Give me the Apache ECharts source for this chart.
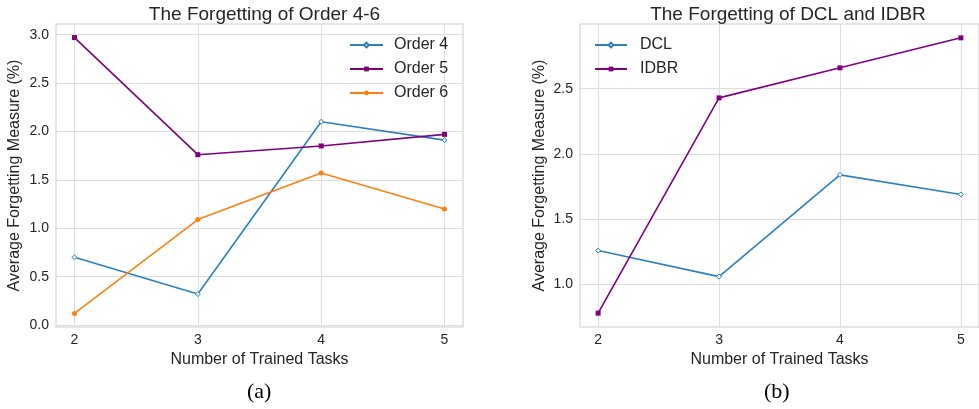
<!DOCTYPE html>
<html>
<head>
<meta charset="utf-8">
<script src="https://cdn.jsdelivr.net/npm/echarts@6/dist/echarts.min.js"></script>
<style>
  html, body { margin: 0; padding: 0; background: #fff; }
  #chart { width: 979px; height: 409px; }
</style>
</head>
<body>
<div id="chart"></div>
<script>
// x positions (number of trained tasks)
const tasks = [2, 3, 4, 5];

// (a) Order 4-6
const order4 = [0.70, 0.32, 2.10, 1.91];
const order5 = [2.97, 1.76, 1.85, 1.97];
const order6 = [0.12, 1.09, 1.57, 1.20];

// (b) DCL vs IDBR
const dcl = [1.26, 1.06, 1.84, 1.69];
const idbr = [0.78, 2.43, 2.66, 2.89];

const yTicksA = [0, 0.5, 1.0, 1.5, 2.0, 2.5, 3.0];
const yTicksB = [1.0, 1.5, 2.0, 2.5];

const TEXT = "#262626";
const GRID = "#dedede";
const FONT = "Liberation Sans";

const pairs = (ys) => tasks.map((x, i) => [x, ys[i]]);

const xAxisBase = (gridIndex) => ({
  type: "value",
  gridIndex,
  min: 1.85,
  max: 5.15,
  name: "Number of Trained Tasks",
  nameLocation: "middle",
  nameGap: 22,
  nameTextStyle: { color: TEXT, fontSize: 16, fontFamily: FONT },
  axisLine: { show: false },
  axisTick: { show: false, customValues: tasks },
  axisLabel: { color: TEXT, fontSize: 14, fontFamily: FONT, margin: 6, customValues: tasks, formatter: (v) => String(v) },
  splitLine: { show: true, lineStyle: { color: GRID, width: 1 } },
});

const yAxisBase = (gridIndex, min, max, ticks) => ({
  type: "value",
  gridIndex,
  min,
  max,
  name: "Average Forgetting Measure (%)",
  nameLocation: "middle",
  nameGap: 33,
  nameTextStyle: { color: TEXT, fontSize: 16, fontFamily: FONT },
  axisLine: { show: false },
  axisTick: { show: false, customValues: ticks },
  axisLabel: { color: TEXT, fontSize: 14, fontFamily: FONT, margin: 7, customValues: ticks, formatter: (v) => v.toFixed(1) },
  splitLine: { show: true, lineStyle: { color: GRID, width: 1 } },
});

const lineSeries = (name, data, color, symbol, size, xi, empty) => ({
  name,
  type: "line",
  xAxisIndex: xi,
  yAxisIndex: xi,
  data: pairs(data),
  symbol,
  symbolSize: size,
  showAllSymbol: true,
  lineStyle: { color, width: 1.6 },
  itemStyle: { color: empty ? "#eaf3fa" : color, borderColor: color, borderWidth: empty ? 1 : 0 },
  emphasis: { disabled: true },
  animation: false,
});

const legendText = (pad) => ({ color: TEXT, fontSize: 16, fontFamily: FONT, lineHeight: 16, padding: [0, 0, 0, pad] });

const chart = echarts.init(document.getElementById("chart"));

chart.setOption({
  animation: false,
  title: [
    { text: "The Forgetting of Order 4-6", left: 259.5, top: 0, textAlign: "center",
      textStyle: { color: TEXT, fontSize: 19, fontWeight: "normal", fontFamily: FONT } },
    { text: "The Forgetting of DCL and IDBR", left: 783, top: 0, textAlign: "center",
      textStyle: { color: TEXT, fontSize: 19, fontWeight: "normal", fontFamily: FONT } },
  ],
  grid: [
    { left: 56, top: 24, width: 407, height: 303, show: true, borderColor: GRID, borderWidth: 1.5, backgroundColor: "#fff" },
    { left: 580, top: 24, width: 407, height: 303, show: true, borderColor: GRID, borderWidth: 1.5, backgroundColor: "#fff" },
  ],
  legend: [
    { data: ["Order 4", "Order 5", "Order 6"], orient: "vertical", left: 344, top: 32,
      itemWidth: 33, itemHeight: 6, itemGap: 8, textStyle: legendText(6) },
    { data: ["DCL", "IDBR"], orient: "vertical", left: 589, top: 32,
      itemWidth: 32, itemHeight: 6, itemGap: 8, textStyle: legendText(8) },
  ],
  xAxis: [xAxisBase(0), xAxisBase(1)],
  yAxis: [
    yAxisBase(0, -0.02, 3.11, yTicksA),
    Object.assign(yAxisBase(1, 0.674, 2.996, yTicksB), { nameGap: 32 }),
  ],
  series: [
    lineSeries("Order 4", order4, "#2b80c0", "diamond", 5, 0, true),
    lineSeries("Order 5", order5, "#800080", "rect", 5, 0, false),
    lineSeries("Order 6", order6, "#ff7f0e", "circle", 5, 0, false),
    lineSeries("DCL", dcl, "#2b80c0", "diamond", 5, 1, true),
    lineSeries("IDBR", idbr, "#800080", "rect", 5, 1, false),
  ],
  graphic: [
    { type: "text", left: 247, top: 381, style: { text: "(a)", fill: "#000", font: "22px 'Liberation Serif'" } },
    { type: "text", left: 764, top: 381, style: { text: "(b)", fill: "#000", font: "22px 'Liberation Serif'" } },
  ],
});
</script>
</body>
</html>
